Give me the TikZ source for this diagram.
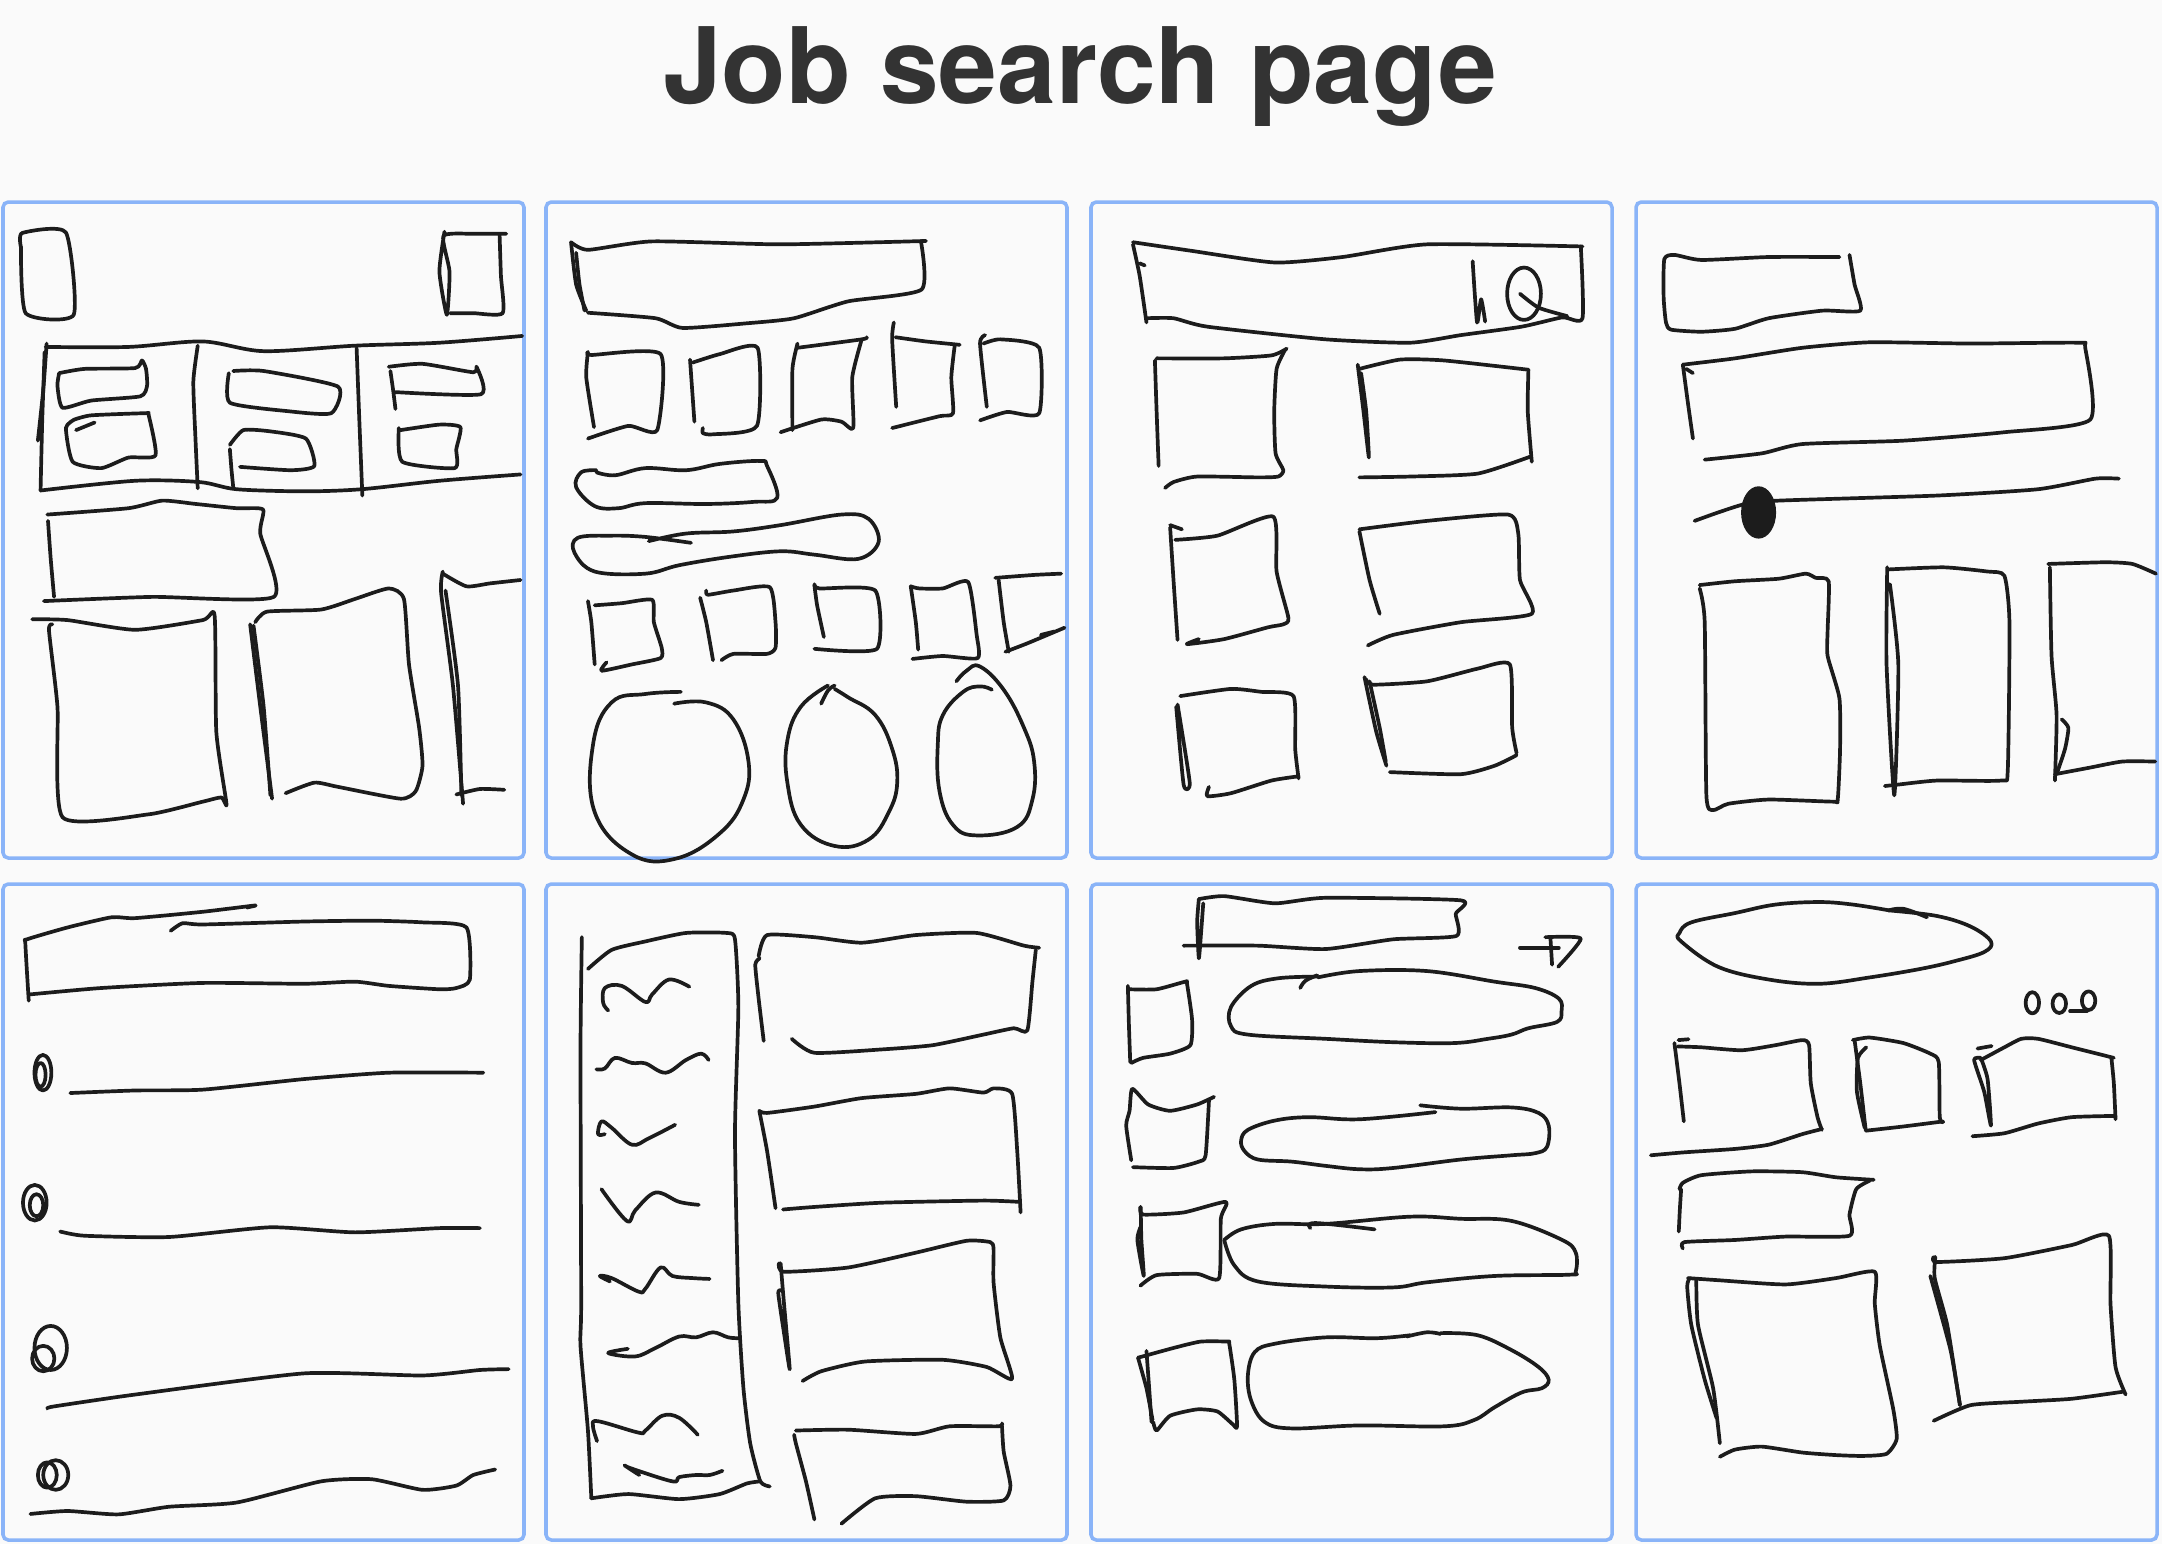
\documentclass[tikz,border=0pt]{standalone}
\usepackage{fontspec}
\setsansfont{TeX Gyre Heros}
\definecolor{ink}{HTML}{1C1C1C}
\definecolor{framecol}{HTML}{8AB4F8}
\definecolor{paper}{HTML}{FAFAFA}
\definecolor{titlegray}{HTML}{333333}
\newcommand{\scrib}[2][.35]{\draw[pen] plot[smooth,tension=#1] coordinates {#2};}
\begin{document}
\begin{tikzpicture}[x=0.01cm,y=-0.01cm,
  pen/.style={draw=ink,line width=1.05pt,line cap=round,line join=round},
  panel/.style={draw=framecol,line width=1pt,rounded corners=1.5pt},
  toprow/.style={shift={(#1,200)},xscale=.33801,yscale=.42219},
  botrow/.style={shift={(#1,880)},xscale=.33801,yscale=.42347}]
\fill[paper] (0,0) rectangle (2162,1544);
\useasboundingbox (0,0) rectangle (2162,1544);
\node[font=\sffamily\bfseries\fontsize{30}{36}\selectfont,text=titlegray,anchor=base] (title) at (1080,103) {Job search page};
\foreach \px in {3,546,1091,1636}
  \foreach \py in {202,884}
    {\draw[panel] (\px,\py) rectangle ++(521,656);}

\begin{scope}[toprow=0]
\scrib{(62,112)(66,78)(195,77)(218,272)(76,268)(62,110)}
\scrib{(1315,75)(1300,170)(1322,272)(1330,170)(1312,85)(1400,80)(1498,80)}
\scrib{(1478,82)(1482,180)(1487,268)(1400,268)(1332,268)}
\scrib[.5]{(135,348)(380,348)(600,335)(780,358)(1050,345)(1300,338)(1545,322)}
\scrib[.5]{(120,688)(400,665)(590,668)(700,685)(900,690)(1070,685)(1300,665)(1540,650)}
\scrib{(138,340)(128,450)(112,570)}
\scrib{(132,360)(125,520)(120,688)}
\scrib{(585,345)(572,430)(578,560)(585,683)}
\scrib{(1055,350)(1063,520)(1072,700)}
\scrib{(175,410)(250,400)(400,398)(420,380)(432,400)(435,440)(415,465)(270,475)(185,492)(170,440)(175,410)}
\scrib{(225,545)(280,527)}
\scrib{(220,520)(270,510)(430,505)(440,510)(460,605)(380,610)(300,635)(215,620)(195,540)(220,520)}
\scrib{(690,405)(780,405)(1000,442)(980,505)(850,500)(680,480)(677,410)}
\scrib{(710,632)(860,640)(930,630)(905,565)(800,548)(720,545)(680,580)}
\scrib{(680,590)(685,640)(690,680)}
\scrib{(1150,395)(1250,388)(1400,408)(1410,395)(1423,460)(1170,455)}
\scrib{(1155,405)(1163,450)(1170,495)}
\scrib{(1185,545)(1300,532)(1362,538)(1350,590)(1345,635)(1190,620)(1180,540)}
\scrib{(142,760)(150,850)(160,940)}
\scrib{(140,745)(380,730)(480,712)(580,720)(700,730)(778,733)(770,790)(810,940)(450,940)(130,950)}
\scrib{(95,993)(200,995)(400,1018)(600,995)(635,985)(640,1260)(670,1430)(655,1415)(600,1425)(440,1455)(185,1462)(170,1200)(145,1020)(155,1005)}
\scrib{(740,1005)(770,1200)(805,1418)}
\scrib{(750,1008)(780,1200)(800,1410)}
\scrib{(755,1000)(790,975)(950,970)(1050,945)(1150,920)(1195,945)(1210,1100)(1240,1250)(1250,1340)(1230,1400)(1185,1418)(1000,1390)(930,1380)(845,1405)}
\scrib{(1310,885)(1380,915)(1450,908)(1540,900)}
\scrib{(1310,880)(1305,930)(1340,1150)(1370,1430)}
\scrib{(1318,925)(1355,1150)(1365,1410)}
\scrib{(1350,1408)(1420,1395)(1492,1397)}
\end{scope}

\begin{scope}[toprow=544]
\scrib{(80,100)(130,118)(320,98)(700,105)(1130,97)}
\scrib{(1115,97)(1117,212)(900,240)(740,280)(600,292)(410,303)(330,280)(130,267)}
\scrib{(80,100)(95,200)(125,262)}
\scrib{(95,125)(105,200)(120,262)}
\scrib{(130,360)(140,367)(345,365)(335,545)(250,535)(130,565)}
\scrib{(130,360)(125,420)(148,538)}
\scrib{(432,378)(445,525)}
\scrib{(440,385)(520,365)(632,350)(630,535)(500,555)(470,552)(470,540)}
\scrib{(750,340)(735,400)(735,545)}
\scrib{(750,350)(940,330)(955,325)}
\scrib{(940,330)(912,420)(915,540)(880,525)(820,520)(700,550)}
\scrib{(1035,290)(1030,330)(1042,490)}
\scrib{(1040,325)(1130,335)(1230,343)}
\scrib{(1215,345)(1205,420)(1210,505)(1170,512)(1030,540)}
\scrib{(1305,320)(1290,340)(1310,490)}
\scrib{(1300,340)(1350,330)(1465,350)(1465,505)(1370,502)(1290,522)}
\scrib[.6]{(155,645)(210,652)(300,635)(420,640)(520,625)(640,618)(660,630)(690,705)(620,715)(480,720)(300,718)(220,730)(150,725)(95,680)(110,645)(155,640)}
\scrib[.6]{(310,808)(420,790)(560,785)(700,770)(880,745)(960,755)(990,810)(930,850)(800,840)(700,832)(550,845)(400,865)(300,885)(150,880)(90,835)(100,800)(200,795)(300,798)(435,812)}
\scrib{(150,960)(230,955)(320,947)(325,1000)(348,1060)(345,1085)(260,1100)(170,1115)(185,1095)}
\scrib{(130,950)(140,1000)(150,1100)}
\scrib{(462,942)(480,1000)(500,1090)}
\scrib{(480,925)(485,935)(560,925)(668,917)(685,1000)(685,1060)(660,1075)(560,1075)(525,1090)}
\scrib{(800,910)(815,920)(980,925)(985,1063)(800,1063)}
\scrib{(800,912)(808,960)(828,1035)}
\scrib{(1085,915)(1110,920)(1180,920)(1255,905)(1280,1030)(1283,1085)(1180,1080)(1090,1087)}
\scrib{(1085,915)(1100,1000)(1107,1065)}
\scrib{(1335,895)(1450,888)(1530,885)}
\scrib{(1345,900)(1360,1000)(1375,1070)}
\scrib{(1365,1070)(1430,1050)(1540,1013)}
\scrib{(1470,1030)(1510,1022)}
\scrib[.7]{(405,1165)(300,1170)(200,1190)(145,1290)(150,1450)(260,1550)(390,1560)(520,1500)(590,1420)(605,1330)(560,1230)(480,1190)(385,1193)}
\scrib[.7]{(820,1193)(840,1162)(860,1150)}
\scrib[.7]{(840,1150)(760,1200)(720,1280)(720,1380)(760,1480)(860,1530)(960,1515)(1020,1450)(1045,1380)(1030,1300)(980,1220)(900,1178)(860,1158)}
\scrib[.7]{(1220,1140)(1250,1115)(1290,1105)(1360,1160)(1420,1250)(1450,1330)(1445,1420)(1400,1485)(1280,1505)(1210,1480)(1170,1400)(1165,1290)(1180,1220)(1240,1165)(1290,1152)(1325,1160)}
\end{scope}

\begin{scope}[toprow=1089]
\scrib{(130,100)(300,120)(550,148)(750,135)(1000,105)(1460,110)}
\scrib{(1455,110)(1460,280)(1400,278)(1280,300)(1100,320)(950,338)(700,330)(350,300)(250,280)(170,280)}
\scrib{(130,105)(150,180)(170,290)}
\scrib{(150,150)(165,155)}
\scrib{(1135,145)(1148,290)(1160,235)(1172,288)}
\draw[pen] (1287,222) ellipse [x radius=50,y radius=62];
\scrib{(1275,222)(1330,255)(1415,275)}
\scrib{(200,375)(400,375)(540,368)(585,352)}
\scrib{(580,355)(555,400)(548,500)(552,600)(575,640)(560,655)(500,657)(320,655)(250,668)(225,682)}
\scrib{(195,380)(200,500)(206,630)}
\scrib{(240,770)(275,780)}
\scrib{(255,805)(380,795)(545,750)(555,880)(590,990)(575,1005)(530,1012)(400,1040)(290,1052)(325,1040)}
\scrib{(240,775)(250,900)(262,1042)}
\scrib{(270,1175)(420,1158)(510,1165)(605,1175)(610,1300)(620,1370)}
\scrib{(620,1365)(540,1375)(420,1405)(350,1412)(355,1390)}
\scrib{(262,1195)(298,1380)(280,1385)(258,1200)}
\scrib{(800,400)(920,378)(1050,380)(1300,402)}
\scrib{(1300,402)(1298,500)(1310,620)}
\scrib{(1305,608)(1150,648)(950,655)(800,657)}
\scrib{(795,390)(812,500)(828,610)(820,500)(805,410)}
\scrib{(800,780)(1000,760)(1240,745)(1270,790)(1275,900)(1310,980)(1100,1000)(900,1030)(825,1055)}
\scrib{(800,785)(830,900)(860,980)}
\scrib{(820,1135)(840,1148)(1000,1140)(1150,1110)(1245,1100)(1252,1250)(1265,1310)}
\scrib{(1265,1315)(1200,1340)(1100,1360)(890,1355)}
\scrib{(815,1130)(850,1260)(880,1340)}
\scrib{(830,1140)(860,1250)(878,1330)}
\end{scope}

\begin{scope}[toprow=1634,xscale=.99622]
\scrib{(610,135)(400,135)(200,142)(120,130)(90,140)(88,230)(95,290)(110,307)(200,312)(300,305)(400,280)(560,262)(672,262)(655,200)(640,130)}
\scrib{(145,390)(300,375)(500,350)(700,337)(1000,340)(1320,338)(1340,350)(1355,520)(1100,550)(800,570)(500,578)(380,600)(210,615)}
\scrib{(145,390)(160,480)(175,565)}
\scrib{(155,400)(175,410)}
\scrib{(180,760)(250,740)(330,720)(430,712)(900,700)(1200,685)(1370,660)(1440,660)}
\fill[ink] (370,740) ellipse [x radius=52,y radius=62];
\scrib{(195,912)(300,903)(430,897)(510,885)(540,895)(578,903)(575,1020)(575,1080)(610,1180)(612,1300)(605,1420)(590,1425)(400,1420)(280,1430)(235,1445)(215,1410)(210,1000)(195,920)}
\scrib{(755,875)(920,870)(1050,880)(1100,890)(1115,1000)(1110,1350)(1090,1375)(900,1375)(780,1385)(745,1388)}
\scrib{(752,870)(750,1100)(773,1410)(785,1100)(760,910)}
\scrib{(1230,862)(1400,858)(1480,862)(1550,885)}
\scrib{(1235,870)(1240,1080)(1255,1220)(1250,1375)}
\scrib{(1255,1360)(1280,1300)(1290,1250)(1270,1230)}
\scrib{(1250,1360)(1350,1345)(1450,1330)(1548,1330)}
\end{scope}

\begin{scope}[botrow=0]
\scrib{(85,285)(75,150)(80,140)(200,112)(330,88)(400,90)(600,75)(755,60)(730,65)}
\scrib{(505,120)(540,102)(600,105)(900,98)(1100,96)(1250,100)(1380,112)(1390,235)(1350,255)(1300,258)(1150,250)(1050,240)(900,245)(600,243)(300,255)(90,270)}
\draw[pen] (127,455) ellipse [x radius=25,y radius=42];
\draw[pen] (120,460) ellipse [x radius=15,y radius=28];
\scrib{(208,503)(400,497)(600,495)(900,470)(1150,455)(1430,455)}
\draw[pen] (103,762) ellipse [x radius=35,y radius=42];
\draw[pen] (108,768) ellipse [x radius=20,y radius=26];
\scrib{(178,830)(250,840)(500,843)(800,820)(1050,832)(1300,822)(1420,822)}
\draw[pen] (150,1105) ellipse [x radius=48,y radius=52];
\draw[pen] (128,1130) ellipse [x radius=33,y radius=30];
\scrib{(140,1248)(160,1243)(400,1215)(900,1165)(1250,1170)(1420,1157)(1505,1155)}
\draw[pen] (165,1405) ellipse [x radius=37,y radius=35];
\draw[pen] (140,1405) ellipse [x radius=28,y radius=30];
\scrib{(90,1497)(200,1490)(350,1498)(500,1480)(700,1470)(950,1420)(1100,1415)(1250,1440)(1350,1430)(1400,1405)(1465,1392)}
\end{scope}

\begin{scope}[botrow=544]
\scrib{(112,135)(108,400)(110,1000)(108,1100)(130,1300)(140,1460)}
\scrib{(130,210)(200,165)(300,145)(420,125)(540,125)(565,140)(575,300)(565,600)(575,1000)(590,1200)(610,1330)(640,1420)(668,1432)}
\scrib{(640,1420)(600,1425)(520,1450)(400,1462)(250,1450)(140,1460)}
\scrib[.6]{(190,308)(175,290)(180,255)(230,250)(300,288)(320,270)(370,235)(430,252)}
\scrib[.6]{(155,447)(180,445)(210,420)(260,432)(300,433)(360,455)(420,425)(465,410)(487,425)}
\scrib[.6]{(180,600)(160,600)(170,570)(200,585)(260,625)(310,610)(388,578)}
\scrib[.6]{(170,730)(245,805)(270,780)(330,738)(400,760)(458,767)}
\scrib[.6]{(195,948)(165,935)(200,940)(280,972)(300,965)(345,915)(380,935)(440,940)(490,942)}
\scrib[.6]{(248,1107)(190,1117)(270,1125)(330,1105)(400,1078)(450,1080)(500,1068)(545,1080)(580,1082)}
\scrib[.6]{(157,1325)(145,1290)(160,1278)(280,1305)(300,1300)(350,1265)(400,1270)(455,1310)}
\scrib[.6]{(282,1405)(240,1383)(260,1390)(380,1420)(400,1410)(450,1405)(490,1405)(528,1395)}
\scrib{(635,180)(660,130)(800,135)(940,148)(1100,130)(1280,125)(1420,155)(1465,160)}
\scrib{(1455,165)(1445,240)(1430,355)(1390,350)(1300,365)(1150,390)(1000,400)(800,408)(733,375)}
\scrib{(638,185)(625,200)(635,280)(650,380)}
\scrib{(637,545)(660,550)(800,535)(940,515)(1100,505)(1200,492)(1300,502)(1330,492)(1385,505)(1400,640)(1410,785)}
\scrib{(1405,760)(1300,757)(1000,762)(800,772)(707,778)}
\scrib{(637,545)(660,640)(685,775)}
\scrib{(695,905)(710,925)(900,915)(1100,880)(1250,852)(1320,855)(1330,870)(1330,950)(1350,1080)(1385,1178)(1310,1150)(1180,1133)(950,1137)(820,1160)(765,1183)}
\scrib{(700,905)(710,1000)(727,1155)(712,1080)(693,975)(705,970)}
\scrib{(745,1300)(900,1298)(1100,1308)(1200,1290)(1345,1290)(1355,1283)}
\scrib{(1355,1290)(1360,1350)(1380,1430)(1360,1465)(1250,1468)(1100,1455)(980,1460)(880,1520)}
\scrib{(740,1310)(745,1330)(775,1420)(800,1510)}
\end{scope}

\begin{scope}[botrow=1089]
\scrib{(325,45)(400,38)(550,55)(700,42)(1100,48)(1085,80)(1087,132)(900,140)(700,163)(500,155)(280,155)}
\scrib{(325,45)(320,100)(325,185)(332,120)(338,55)}
\scrib{(1275,160)(1390,160)}
\scrib{(1365,135)(1370,200)}
\scrib{(1350,135)(1455,138)(1388,205)}
\scrib{(120,258)(200,258)(285,240)(290,245)(305,330)(300,390)(240,410)(160,420)(125,432)}
\scrib{(115,250)(118,340)(122,430)}
\scrib[.6]{(625,255)(640,238)(675,225)}
\scrib[.6]{(677,228)(560,232)(480,250)(420,300)(420,345)(470,365)(700,375)(900,383)(1080,385)(1180,375)(1250,365)(1300,350)(1385,335)(1398,310)(1390,280)(1320,255)(1200,240)(1000,215)(800,215)(677,230)}
\scrib{(125,662)(110,580)(120,545)(128,493)(175,530)(240,545)(320,530)(370,512)}
\scrib{(355,520)(345,650)(325,665)(250,680)(130,678)}
\scrib[.6]{(1025,548)(800,565)(650,560)(550,568)(470,590)(450,615)(460,640)(500,660)(600,665)(700,675)(800,683)(900,680)(1100,660)(1250,650)(1320,645)(1355,630)(1360,580)(1330,550)(1250,537)(1100,540)(980,532)}
\scrib{(152,772)(160,790)(280,785)(405,760)(390,800)(385,940)(320,930)(200,933)(152,958)}
\scrib{(153,772)(155,850)(162,935)(143,850)(152,820)}
\scrib[.6]{(655,822)(670,810)(845,825)}
\scrib[.6]{(400,850)(450,825)(550,812)(700,812)(950,795)(1100,800)(1250,805)(1400,850)(1440,880)(1440,925)(1420,932)(1200,935)(1000,950)(900,962)(700,960)(500,948)(430,910)(400,850)}
\scrib{(145,1128)(250,1105)(330,1090)(410,1090)(415,1095)(430,1180)(438,1290)(425,1285)(380,1255)(320,1250)(240,1265)(200,1300)(190,1280)}
\scrib{(145,1128)(170,1200)(188,1275)}
\scrib{(170,1112)(178,1200)(185,1280)}
\scrib[.6]{(940,1078)(1000,1068)(1040,1072)}
\scrib[.6]{(1040,1070)(1150,1075)(1250,1110)(1330,1150)(1360,1180)(1340,1200)(1280,1210)(1200,1245)(1140,1275)(1050,1290)(800,1288)(600,1295)(520,1280)(480,1230)(470,1170)(490,1115)(550,1095)(700,1080)(850,1082)(950,1075)}
\end{scope}

\begin{scope}[botrow=1634,xscale=.99622]
\scrib[.6]{(755,72)(800,68)(870,88)}
\scrib[.6]{(760,72)(650,58)(550,52)(420,58)(300,78)(170,100)(135,125)(140,145)(250,205)(400,235)(550,245)(700,230)(850,210)(950,192)(1040,170)(1060,145)(1000,110)(900,85)(760,72)}
\draw[pen] (1183,290) ellipse [x radius=20,y radius=25];
\draw[pen] (1263,292) ellipse [x radius=20,y radius=22];
\draw[pen] (1350,285) ellipse [x radius=20,y radius=22];
\scrib{(1295,310)(1345,310)}
\scrib{(132,378)(162,376)}
\scrib{(130,393)(200,395)(320,402)(420,390)(500,378)(520,390)(525,480)(545,560)(558,590)}
\scrib{(558,588)(500,600)(400,625)(300,635)(150,643)(50,650)}
\scrib{(120,385)(135,480)(148,570)}
\scrib{(650,378)(700,372)(800,385)(880,410)(905,430)(908,560)(918,572)}
\scrib{(918,570)(800,582)(688,592)}
\scrib{(655,378)(672,480)(688,590)}
\scrib{(690,395)(665,420)(662,500)(685,585)}
\scrib{(1020,398)(1062,392)}
\scrib{(1030,425)(1100,395)(1150,375)(1200,375)(1300,395)(1425,420)}
\scrib{(1418,422)(1425,480)(1430,565)}
\scrib{(1430,557)(1300,560)(1200,575)(1100,598)(1005,605)}
\scrib{(1030,420)(1010,425)(1040,500)(1060,580)(1050,470)(1030,420)}
\scrib{(135,730)(145,715)(200,697)(350,688)(500,690)(600,702)(712,708)}
\scrib{(700,710)(660,730)(640,790)(640,840)(450,842)(300,850)(150,855)(145,870)}
\scrib{(140,730)(136,780)(133,830)}
\scrib{(160,940)(250,945)(450,955)(600,940)(715,925)(715,1000)(730,1100)(770,1250)(780,1320)(750,1355)(680,1360)(600,1358)(500,1352)(380,1338)(300,1345)(255,1362)}
\scrib{(165,940)(158,960)(170,1050)(210,1180)(245,1270)}
\scrib{(185,945)(190,1050)(235,1200)(255,1330)}
\scrib{(890,890)(900,902)(1100,893)(1300,862)(1410,840)(1415,1000)(1430,1150)(1460,1215)}
\scrib{(1455,1208)(1300,1225)(1150,1232)(1000,1240)(890,1277)}
\scrib{(895,890)(893,940)(930,1050)(960,1200)(968,1240)}
\scrib{(880,935)(940,1110)(968,1240)}
\end{scope}
\end{tikzpicture}
\end{document}
